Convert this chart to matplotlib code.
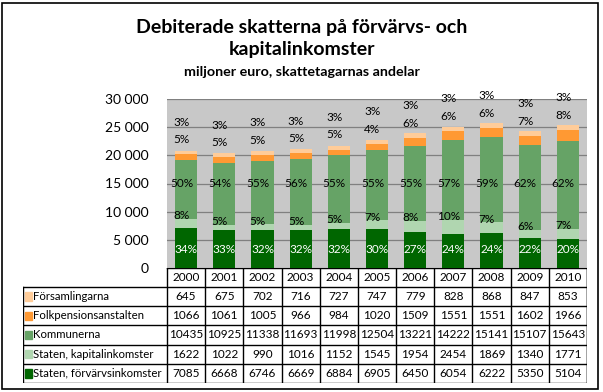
import numpy as np
import matplotlib.pyplot as plt
from matplotlib.patches import Rectangle

plt.rcParams["font.family"] = ["Lato", "DejaVu Sans"]

years = ["2000", "2001", "2002", "2003", "2004", "2005",
         "2006", "2007", "2008", "2009", "2010"]
series_names = ["Staten, förvärvsinkomster", "Staten, kapitalinkomster",
                "Kommunerna", "Folkpensionsanstalten", "Församlingarna"]
staten_forv = [7085, 6668, 6746, 6669, 6884, 6905, 6450, 6054, 6222, 5350, 5104]
staten_kap = [1622, 1022, 990, 1016, 1152, 1545, 1954, 2454, 1869, 1340, 1771]
kommunerna = [10435, 10925, 11338, 11693, 11998, 12504, 13221, 14222, 15141, 15107, 15643]
folkpension = [1066, 1061, 1005, 966, 984, 1020, 1509, 1551, 1551, 1602, 1966]
forsamlingar = [645, 675, 702, 716, 727, 747, 779, 828, 868, 847, 853]
colors = ["#006600", "#B0D6B0", "#66A366", "#FF9933", "#FFCC99"]

data = np.array([staten_forv, staten_kap, kommunerna, folkpension, forsamlingar], float)
total = data.sum(axis=0)
share = np.round(data / total * 100).astype(int)
x = np.arange(len(years))

fig = plt.figure(figsize=(6.03, 3.92), dpi=100)
W, H = 603, 392

# outer frame
fig.add_artist(Rectangle((2 / W, 3 / H), 596 / W, 386 / H, transform=fig.transFigure,
                         fill=False, ec="black", lw=1.2))

fig.text(0.5, 1 - 27 / H, "Debiterade skatterna på förvärvs- och", ha="center",
         va="center", fontsize=14, fontweight="bold")
fig.text(0.5, 1 - 50 / H, "kapitalinkomster", ha="center", va="center",
         fontsize=14, fontweight="bold")
fig.text(0.5, 1 - 72 / H, "miljoner euro, skattetagarnas andelar", ha="center",
         va="center", fontsize=10.3, fontweight="bold")

# main plot
left, right, top, bottom = 167, 587, 99, 268
ax = fig.add_axes([left / W, 1 - bottom / H, (right - left) / W, (bottom - top) / H])
ax.set_facecolor("#C8C8C8")
ax.set_xlim(-0.5, len(years) - 0.5)
ax.set_ylim(0, 30000)
ax.set_yticks(np.arange(0, 30001, 5000))
ax.set_yticklabels([f"{v:,}".replace(",", " ") for v in range(0, 30001, 5000)], fontsize=10)
ax.tick_params(axis="y", length=0, pad=13)
ax.set_xticks([])
ax.grid(axis="y", color="#808080", lw=0.9)
ax.set_axisbelow(True)
for s in ax.spines.values():
    s.set_visible(False)

bottoms = np.zeros(len(years))
for i in range(5):
    ax.bar(x, data[i], 0.58, bottom=bottoms, color=colors[i], zorder=2)
    bottoms = bottoms + data[i]

cum = np.cumsum(data, axis=0)
for j in range(len(years)):
    ax.text(x[j], 3200, f"{share[0, j]}%", ha="center", va="center", fontsize=8.5,
            color="white", zorder=3)
    ax.text(x[j] - 0.12, cum[1, j] + 600, f"{share[1, j]}%", ha="center",
            va="center", fontsize=8.5, zorder=3)
    ax.text(x[j] - 0.12, 15000, f"{share[2, j]}%", ha="center", va="center",
            fontsize=8.5, zorder=3)
    ax.text(x[j] - 0.12, cum[3, j] + 2600, f"{share[3, j]}%", ha="center",
            va="center", fontsize=8.5, zorder=3)
    ax.text(x[j] - 0.12, cum[4, j] + 5000, f"{share[4, j]}%", ha="center",
            va="center", fontsize=8.5, zorder=3, clip_on=False)

# data table
tl, tt, tb = 23, 268, 383
colw = (right - left) / len(years)
lab_w = (left - tl) / colw
tax = fig.add_axes([tl / W, 1 - tb / H, (right - tl) / W, (tb - tt) / H])
tax.set_xlim(-0.5 - lab_w, len(years) - 0.5)
tax.set_ylim(6, 0)
tax.axis("off")
head_h = 19 / ((tb - tt) / 6)
row_edges = [0, head_h] + list(head_h + np.arange(1, 6) * (6 - head_h) / 5)
lw = 1.0
x0, x1 = -0.5 - lab_w, len(years) - 0.5
# horizontal lines
tax.plot([-0.5, x1], [0, 0], color="black", lw=lw)
for r in row_edges[1:]:
    tax.plot([x0, x1], [r, r], color="black", lw=lw)
# vertical lines
tax.plot([x0, x0], [row_edges[1], row_edges[-1]], color="black", lw=lw)
for c in np.arange(-0.5, len(years)):
    tax.plot([c, c], [0, row_edges[-1]], color="black", lw=lw)
tax.plot([x1, x1], [0, row_edges[-1]], color="black", lw=lw)
for j, yr in enumerate(years):
    tax.text(j, row_edges[0] + head_h / 2, yr, ha="center", va="center", fontsize=8.5)
table_order = [4, 3, 2, 1, 0]
for r, i in enumerate(table_order):
    yc = (row_edges[r + 1] + row_edges[r + 2]) / 2
    tax.add_patch(Rectangle((x0 + 0.04, yc - 0.22), 0.19, 0.44, color=colors[i],
                            transform=tax.transData))
    tax.text(x0 + 0.25, yc, series_names[i], ha="left", va="center", fontsize=8.2)
    for j in range(len(years)):
        tax.text(j, yc, f"{int(data[i, j])}", ha="center", va="center", fontsize=8.5)

fig.savefig("out.png", dpi=100)
